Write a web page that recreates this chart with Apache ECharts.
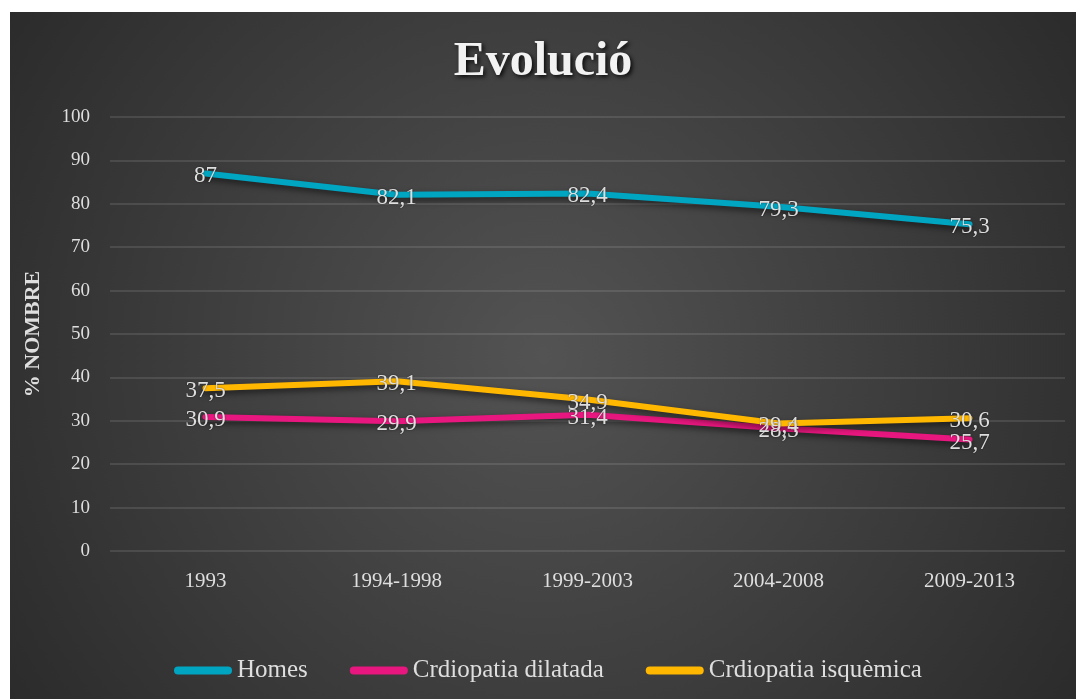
<!DOCTYPE html>
<html>
<head>
<meta charset="utf-8">
<style>
  html, body { margin: 0; padding: 0; background: #ffffff; }
  #chart { position: absolute; left: 10px; top: 12px; width: 1066px; height: 687px; }
</style>
<script src="https://cdn.jsdelivr.net/npm/echarts@6/dist/echarts.min.js"></script>
</head>
<body>
<div id="chart"></div>
<script>
// Periods on the category axis
const periods = ['1993', '1994-1998', '1999-2003', '2004-2008', '2009-2013'];

// Percentages per series
const homes = [87, 82.1, 82.4, 79.3, 75.3];
const dilatada = [30.9, 29.9, 31.4, 28.3, 25.7];
const isquemica = [37.5, 39.1, 34.9, 29.4, 30.6];

const seriesNames = ['Homes', 'Crdiopatia dilatada', 'Crdiopatia isquèmica'];
const seriesColors = ['#00A5C1', '#E8177F', '#FFB700'];

const serif = '"Liberation Serif", "DejaVu Serif", serif';
const textColor = '#dedede';

// Decimal comma, as in Catalan
const fmt = v => String(v).replace('.', ',');

function lineSeries(name, data, color) {
  return {
    name: name,
    type: 'line',
    data: data,
    symbol: 'circle',
    symbolSize: 1,
    itemStyle: { color: color },
    lineStyle: {
      width: 6, color: color, cap: 'round', join: 'round',
      shadowColor: 'rgba(0,0,0,0.55)', shadowBlur: 6, shadowOffsetY: 3
    },
    label: {
      show: true,
      position: 'inside',
      offset: [0, 3],
      color: textColor,
      fontFamily: serif,
      fontSize: 23,
      textShadowColor: 'rgba(0,0,0,0.45)',
      textShadowBlur: 2,
      formatter: p => fmt(p.value)
    },
    emphasis: { disabled: true },
    animation: false
  };
}

const chart = echarts.init(document.getElementById('chart'));
chart.setOption({
  backgroundColor: {
    type: 'radial', x: 0.5, y: 0.5, r: 0.95,
    colorStops: [
      { offset: 0, color: '#535353' },
      { offset: 1, color: '#2a2a2a' }
    ]
  },
  title: {
    text: 'Evolució',
    left: 'center',
    top: 22,
    textStyle: {
      fontFamily: serif,
      fontWeight: 'bold',
      fontSize: 48,
      color: '#f2f2f2',
      textShadowColor: 'rgba(0,0,0,0.85)',
      textShadowBlur: 4,
      textShadowOffsetX: 2,
      textShadowOffsetY: 2
    }
  },
  legend: {
    data: seriesNames,
    left: 159,
    top: 641,
    itemWidth: 58,
    itemHeight: 8,
    itemGap: 42,
    icon: 'path://M4,0 L54,0 A4,4 0 0 1 54,8 L4,8 A4,4 0 0 1 4,0 Z',
    textStyle: { fontFamily: serif, fontSize: 25, color: textColor }
  },
  grid: { left: 100, right: 11, top: 105, bottom: 148 },
  xAxis: {
    type: 'category',
    data: periods,
    axisLine: { show: false },
    axisTick: { show: false },
    axisLabel: { fontFamily: serif, fontSize: 21, color: textColor, margin: 20 }
  },
  yAxis: {
    type: 'value',
    min: 0,
    max: 100,
    interval: 10,
    name: '% NOMBRE',
    nameLocation: 'middle',
    nameGap: 66,
    nameRotate: 90,
    nameTextStyle: { fontFamily: serif, fontWeight: 'bold', fontSize: 22, color: textColor },
    axisLine: { show: false },
    axisTick: { show: false },
    axisLabel: { fontFamily: serif, fontSize: 19, color: textColor, margin: 20 },
    splitLine: { lineStyle: { color: 'rgba(255,255,255,0.14)', width: 1.5 } }
  },
  series: [
    lineSeries(seriesNames[0], homes, seriesColors[0]),
    lineSeries(seriesNames[1], dilatada, seriesColors[1]),
    lineSeries(seriesNames[2], isquemica, seriesColors[2])
  ]
});
</script>
</body>
</html>
